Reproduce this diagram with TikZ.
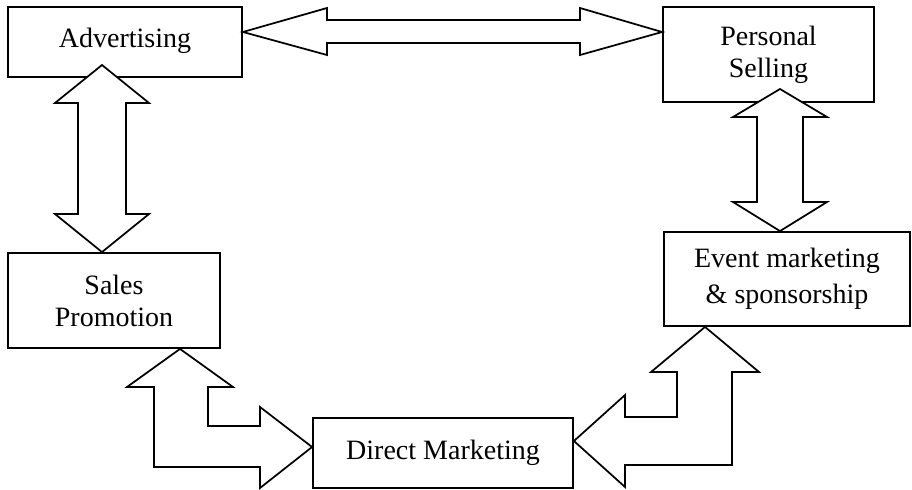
\documentclass[tikz,border=0pt]{standalone}
\usepackage{fontspec}
\setmainfont{Liberation Serif}
\begin{document}
\begin{tikzpicture}[x=0.75pt,y=-0.75pt,
  box/.style={draw, line width=1.4pt, rectangle, align=center, inner sep=0pt,
    font=\fontsize{21}{24}\selectfont},
  blockarrow/.style={draw, line width=1.3pt, fill=white, line join=miter}]
\useasboundingbox (0,0) rectangle (912,489);
% boxes
\node[box, minimum width=175.5pt, minimum height=52.5pt] (adv) at (125,42) {\raisebox{7pt}{Advertising}};
\node[box, minimum width=158.25pt, minimum height=71.25pt] (ps) at (768.5,54.5) {Personal\\Selling};
\node[box, minimum width=159pt, minimum height=71.25pt] (sp) at (114,300.5) {Sales\\Promotion};
\node[box, minimum width=184.5pt, minimum height=70.5pt, font=\fontsize{21}{27}\selectfont] (ev) at (787,279) {Event marketing\\\&\ sponsorship};
\node[box, minimum width=195pt, minimum height=52.5pt] (dm) at (443,453) {Direct Marketing};
% Advertising <-> Personal Selling
\draw[blockarrow] (adv.east |- 0,32) -- (327,8) -- (327,20) -- (580,20) -- (580,8)
  -- (ps.west |- 0,32) -- (580,55) -- (580,43) -- (327,43) -- (327,55) -- cycle;
% Advertising <-> Sales Promotion
\draw[blockarrow] (102,65) -- (149,103) -- (126,103) -- (126,214) -- (149,214)
  -- (sp.north -| 102,0) -- (55,214) -- (78,214) -- (78,103) -- (55,103) -- cycle;
% Personal Selling <-> Event marketing
\draw[blockarrow] (780,89) -- (827,117) -- (803,117) -- (803,202) -- (827,202)
  -- (ev.north -| 780,0) -- (733,202) -- (757,202) -- (757,117) -- (733,117) -- cycle;
% Sales Promotion <-> Direct Marketing
\draw[blockarrow] (sp.south -| 180,0) -- (233,387) -- (208,387) -- (208,426) -- (260,426)
  -- (260,407) -- (dm.west |- 0,447) -- (260,488) -- (260,467) -- (154,467)
  -- (154,387) -- (127,387) -- cycle;
% Event marketing <-> Direct Marketing
\draw[blockarrow] (ev.south -| 705,0) -- (759,372) -- (732,372) -- (732,465) -- (625,465)
  -- (625,487) -- (dm.east |- 0,441) -- (625,395) -- (625,417) -- (677,417)
  -- (677,372) -- (651,372) -- cycle;
\end{tikzpicture}
\end{document}
